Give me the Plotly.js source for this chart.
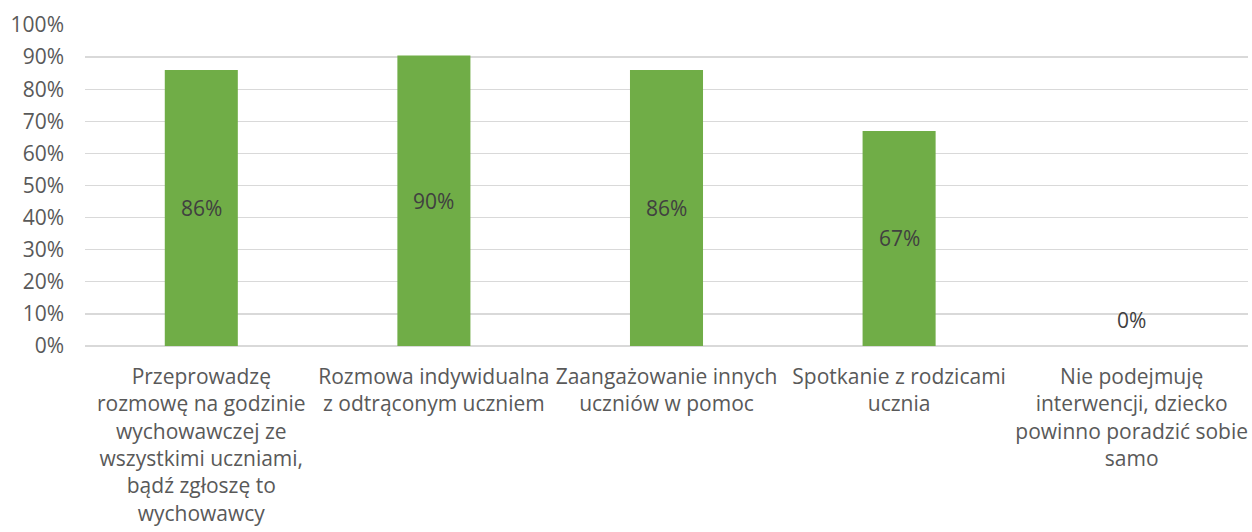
<!DOCTYPE html>
<html><head><meta charset="utf-8">
<script src="https://cdn.plot.ly/plotly-3.0.1.min.js"></script>
<style>html,body{margin:0;padding:0;background:#fff}</style>
</head><body>
<div id="chart" style="width:1252px;height:532px"></div>
<script>
var categories = [
  "Przeprowadzę<br>rozmowę na godzinie<br>wychowawczej ze<br>wszystkimi uczniami,<br>bądź zgłoszę to<br>wychowawcy",
  "Rozmowa indywidualna<br>z odtrąconym uczniem",
  "Zaangażowanie innych<br>uczniów w pomoc",
  "Spotkanie z rodzicami<br>ucznia",
  "Nie podejmuję<br>interwencji, dziecko<br>powinno poradzić sobie<br>samo"
];
var values = [0.86, 0.905, 0.86, 0.67, 0];
var labels = ["86%", "90%", "86%", "67%", "0%"];
var yTickVals = [0,0.1,0.2,0.3,0.4,0.5,0.6,0.7,0.8,0.9,1.0];
var yTickText = ["0%","10%","20%","30%","40%","50%","60%","70%","80%","90%","100%"];

var FONT = "'Open Sans', sans-serif";
var FS = 21;
var annotations = categories.map(function(c, i){
  return {x: c, y: values[i]/2, text: labels[i], showarrow: false,
          xref: 'x', yref: 'y', yshift: values[i] === 0 ? 26 : 0,
          font: {family: FONT, size: FS, color: '#404040'}};
});

Plotly.newPlot('chart', [{
  type: 'bar', x: categories, y: values,
  marker: {color: '#70AD47'}, hoverinfo: 'none'
}], {
  width: 1252, height: 532,
  margin: {l: 85, r: 4, t: 25, b: 186},
  bargap: 0.686,
  showlegend: false,
  paper_bgcolor: '#fff', plot_bgcolor: '#fff',
  font: {family: FONT, size: FS, color: '#595959'},
  xaxis: {type: 'category', showgrid: false, zeroline: false, showline: false,
          ticks: '', ticklabelstandoff: 16,
          tickfont: {family: FONT, size: FS, color: '#595959'}, tickangle: 0, automargin: false},
  yaxis: {range: [0, 1.0], tickvals: yTickVals, ticktext: yTickText,
          showgrid: true, gridcolor: '#D9D9D9', gridwidth: 1.3, zeroline: true, zerolinecolor: '#D9D9D9', zerolinewidth: 1.3,
          showline: false, ticks: '', ticklabelstandoff: 20,
          tickfont: {family: FONT, size: FS, color: '#595959'}, automargin: false},
  annotations: annotations
}, {displayModeBar: false, staticPlot: true});
</script>
</body></html>
